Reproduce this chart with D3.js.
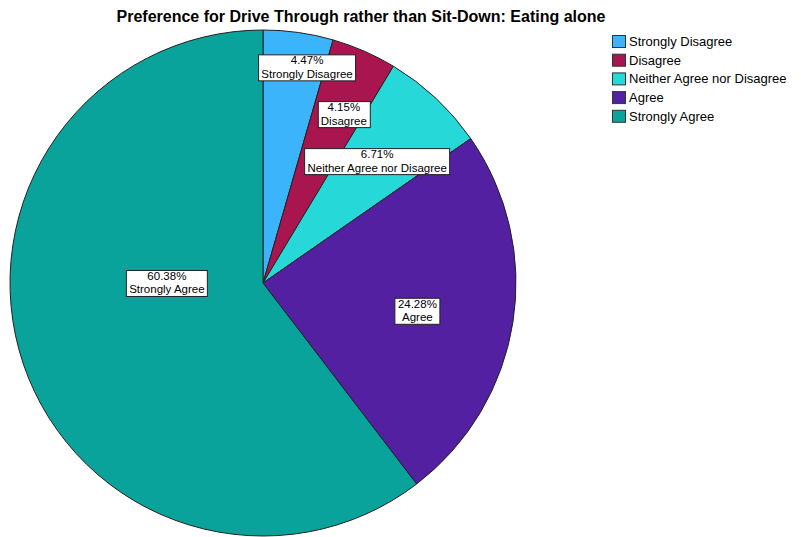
<!DOCTYPE html>
<html>
<head>
<meta charset="utf-8">
<script src="https://cdn.jsdelivr.net/npm/d3@7"></script>
<style>
  body { margin: 0; background: #fff; }
  svg { display: block; font-family: "Liberation Sans", Arial, sans-serif; }
</style>
</head>
<body>
<svg id="chart" width="802" height="537"></svg>
<script>
// categories and percentages
var categories = ["Strongly Disagree", "Disagree", "Neither Agree nor Disagree", "Agree", "Strongly Agree"];
var percents = [4.47, 4.15, 6.71, 24.28, 60.38];
var colors = ["#3bb4fb", "#a8154f", "#27d8d8", "#5220a0", "#0aa39b"];

// label placement (fraction of radius, angle nudge in degrees)
var labelRadius = [0.87, 0.74, 0.66, 0.62, 0.38];
var labelShift = [3.5, 2, 0, 1.3, 18.7];

var svgContainer = d3.select("#chart");

var cx = 263, cy = 283, radius = 253;

// Title
svgContainer
  .append("text")
  .attr("x", 361)
  .attr("y", 22)
  .attr("text-anchor", "middle")
  .style("font-weight", "bold")
  .style("font-size", "16px")
  .attr("fill", "#000")
  .text("Preference for Drive Through rather than Sit-Down: Eating alone");

var data = categories.map(function (c, i) {
  return { label: c, value: percents[i], color: colors[i], idx: i };
});

var pie = d3.pie().sort(null).value(function (d) { return d.value; });
var arc = d3.arc().innerRadius(0).outerRadius(radius);

var g = svgContainer
  .append("g")
  .attr("transform", "translate(" + cx + "," + cy + ")");

var arcs = pie(data);

g.selectAll("path.slice")
  .data(arcs)
  .enter()
  .append("path")
  .attr("class", "slice")
  .attr("d", arc)
  .attr("fill", function (d) { return d.data.color; })
  .attr("stroke", "#222")
  .attr("stroke-width", 1);

// Slice labels in white boxes
arcs.forEach(function (d, i) {
  var a = (d.startAngle + d.endAngle) / 2 + labelShift[i] * Math.PI / 180;
  var r = radius * labelRadius[i];
  var x = Math.sin(a) * r;
  var y = -Math.cos(a) * r;

  var lg = g.append("g").attr("transform", "translate(" + x + "," + y + ")");
  var box = lg.append("rect").attr("fill", "#fff").attr("stroke", "#222").attr("stroke-width", 1);
  var t = lg
    .append("text")
    .attr("text-anchor", "middle")
    .style("font-size", "11.5px")
    .attr("fill", "#000");
  t.append("tspan").attr("x", 0).attr("y", -3).text(d.data.value.toFixed(2) + "%");
  t.append("tspan").attr("x", 0).attr("y", 10.5).text(d.data.label);

  var bb = t.node().getBBox();
  box
    .attr("x", Math.round(bb.x - 3) + 0.5)
    .attr("y", Math.round(bb.y) + 0.5)
    .attr("width", Math.round(bb.width + 6))
    .attr("height", Math.round(bb.height));
});

// Legend
var legend = svgContainer.append("g").attr("transform", "translate(612,35)");
var rowH = 18.7;

categories.forEach(function (c, i) {
  legend
    .append("rect")
    .attr("x", 0.5)
    .attr("y", i * rowH + 0.5)
    .attr("width", 13)
    .attr("height", 12)
    .attr("fill", colors[i])
    .attr("stroke", "#333")
    .attr("stroke-width", 1);
  legend
    .append("text")
    .attr("x", 17)
    .attr("y", i * rowH + 11)
    .style("font-size", "13px")
    .attr("fill", "#000")
    .text(c);
});
</script>
</body>
</html>
